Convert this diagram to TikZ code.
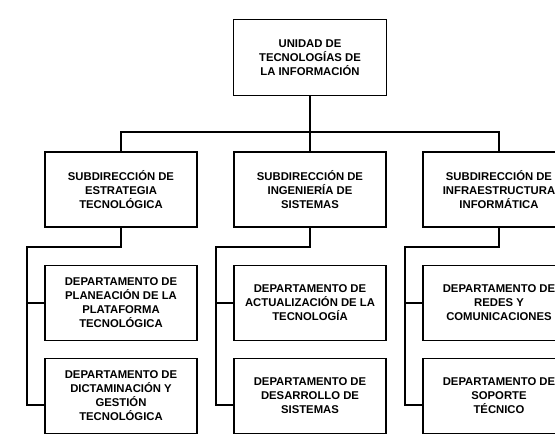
\documentclass[tikz,border=0pt]{standalone}
\usepackage{fontspec}
\setmainfont{Liberation Sans}
\usetikzlibrary{positioning}

\tikzset{
    unitbox/.style={draw, line width=1.9pt, fill=white, align=center,
        minimum width=152pt, minimum height=75pt, inner sep=2pt,
        font=\fontsize{11.3}{14}\selectfont\bfseries},
    orgline/.style={line width=1.9pt}
}

\begin{document}
\begin{tikzpicture}[x=1pt, y=-1pt]
    \useasboundingbox (0, 0) rectangle (555, 435);

    \node[unitbox, minimum width=153pt, minimum height=76pt] (uti) at (310, 57.5)
        {UNIDAD DE\\TECNOLOGÍAS DE\\LA INFORMACIÓN};

    \node[unitbox] (sub1) at (121, 189.5) {SUBDIRECCIÓN DE\\ESTRATEGIA\\TECNOLÓGICA};
    \node[unitbox] (sub2) at (310, 189.5) {SUBDIRECCIÓN DE\\INGENIERÍA DE\\SISTEMAS};
    \node[unitbox] (sub3) at (499, 189.5) {SUBDIRECCIÓN DE\\INFRAESTRUCTURA\\INFORMÁTICA};

    \node[unitbox] (depa1) at (121, 303) {DEPARTAMENTO DE\\PLANEACIÓN DE LA\\PLATAFORMA\\TECNOLÓGICA};
    \node[unitbox] (depb1) at (121, 396) {DEPARTAMENTO DE\\DICTAMINACIÓN Y\\GESTIÓN\\TECNOLÓGICA};
    \node[unitbox] (depa2) at (310, 303) {DEPARTAMENTO DE\\ACTUALIZACIÓN DE LA\\TECNOLOGÍA};
    \node[unitbox] (depb2) at (310, 396) {DEPARTAMENTO DE\\DESARROLLO DE\\SISTEMAS};
    \node[unitbox] (depa3) at (499, 303) {DEPARTAMENTO DE\\REDES Y\\COMUNICACIONES};
    \node[unitbox] (depb3) at (499, 396) {DEPARTAMENTO DE\\SOPORTE\\TÉCNICO};

    % bus under the head unit
    \draw[orgline] (uti.south) -- (sub2.north);
    \draw[orgline] (sub1.north) -- ++(0, -19) -| (sub3.north);

    % branches of each subdireccion
    \foreach \c/\x in {1/121, 2/310, 3/499} {
        \coordinate (bend\c) at (\x-94, 247);
        \coordinate (end\c) at (\x-94, 405);
        \draw[orgline] (sub\c.south) |- (bend\c) -- (end\c) -- (end\c -| depb\c.west);
        \draw[orgline] (bend\c |- depa\c.west) -- (depa\c.west);
    }
\end{tikzpicture}
\end{document}
